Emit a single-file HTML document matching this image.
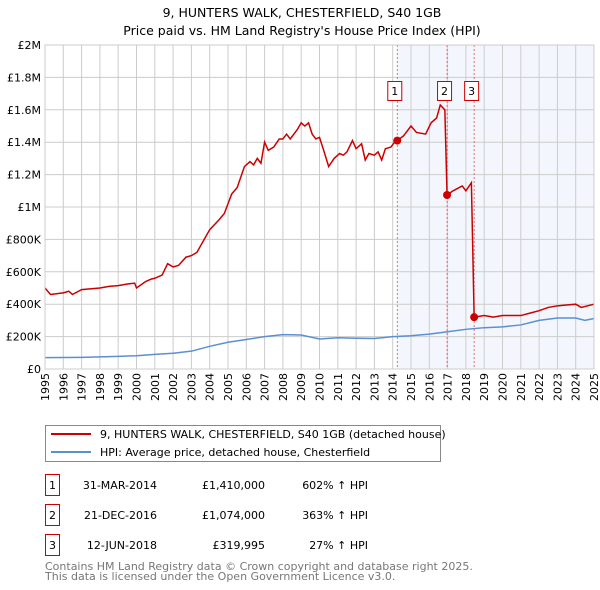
<!DOCTYPE html>
<html><head><meta charset="utf-8"><style>
body{margin:0;background:#fff;}
svg{display:block;font-family:"DejaVu Sans","Liberation Sans",sans-serif;}
</style></head><body>
<svg id="c" width="600" height="590" xmlns="http://www.w3.org/2000/svg">
<text x="302" y="17" text-anchor="middle" font-size="12.5">9, HUNTERS WALK, CHESTERFIELD, S40 1GB</text>
<text x="302" y="35" text-anchor="middle" font-size="12.5">Price paid vs. HM Land Registry's House Price Index (HPI)</text>
<g id="plot"></g>
<g>
<rect x="45.5" y="425.5" width="395" height="36" fill="#fff" stroke="#888"/>
<line x1="51" y1="434" x2="91" y2="434" stroke="#cc0000" stroke-width="2"/>
<text x="100" y="438" font-size="11">9, HUNTERS WALK, CHESTERFIELD, S40 1GB (detached house)</text>
<line x1="51" y1="452" x2="91" y2="452" stroke="#5b8fd4" stroke-width="2"/>
<text x="100" y="456" font-size="11">HPI: Average price, detached house, Chesterfield</text>
</g>
<g font-size="11">
<rect x="45.5" y="474.5" width="14" height="21" fill="#fff" stroke="#cc0000"/><text x="52.5" y="489" text-anchor="middle">1</text>
<text x="157" y="489" text-anchor="end">31-MAR-2014</text><text x="265" y="489" text-anchor="end">£1,410,000</text><text x="368" y="489" text-anchor="end">602% ↑ HPI</text>
<rect x="45.5" y="504.5" width="14" height="21" fill="#fff" stroke="#cc0000"/><text x="52.5" y="519" text-anchor="middle">2</text>
<text x="157" y="519" text-anchor="end">21-DEC-2016</text><text x="265" y="519" text-anchor="end">£1,074,000</text><text x="368" y="519" text-anchor="end">363% ↑ HPI</text>
<rect x="45.5" y="534.5" width="14" height="21" fill="#fff" stroke="#cc0000"/><text x="52.5" y="549" text-anchor="middle">3</text>
<text x="157" y="549" text-anchor="end">12-JUN-2018</text><text x="265" y="549" text-anchor="end">£319,995</text><text x="368" y="549" text-anchor="end">27% ↑ HPI</text>
</g>
<text x="45" y="570" font-size="11" fill="#777">Contains HM Land Registry data © Crown copyright and database right 2025.</text>
<text x="45" y="580" font-size="11" fill="#777">This data is licensed under the Open Government Licence v3.0.</text>
</svg>
<script>
const yTicks=[0,200,400,600,800,1000,1200,1400,1600,1800,2000];
const yTickLabels=["£0","£200K","£400K","£600K","£800K","£1M","£1.2M","£1.4M","£1.6M","£1.8M","£2M"];
const years=[1995,1996,1997,1998,1999,2000,2001,2002,2003,2004,2005,2006,2007,2008,2009,2010,2011,2012,2013,2014,2015,2016,2017,2018,2019,2020,2021,2022,2023,2024,2025];
const redT=[1995,1995.3,1996,1996.3,1996.5,1997,1998,1998.5,1999,1999.5,1999.9,2000.0,2000.5,2000.8,2001,2001.4,2001.7,2002,2002.3,2002.7,2003,2003.3,2003.7,2004,2004.5,2004.8,2005.2,2005.5,2005.9,2006.2,2006.4,2006.6,2006.8,2007.0,2007.2,2007.5,2007.8,2008,2008.2,2008.4,2008.8,2009.0,2009.2,2009.4,2009.6,2009.8,2010.0,2010.2,2010.5,2010.8,2011.1,2011.3,2011.5,2011.8,2012.0,2012.3,2012.5,2012.7,2013.0,2013.2,2013.4,2013.6,2013.9,2014.1,2014.25,2014.6,2015,2015.3,2015.8,2016.1,2016.4,2016.6,2016.85,2016.97,2017.3,2017.8,2018.0,2018.3,2018.45,2019,2019.5,2020,2021,2021.5,2022,2022.5,2023,2023.5,2024,2024.3,2025];
const redV=[500,460,470,480,460,490,500,510,515,525,530,500,540,555,560,580,650,630,640,690,700,720,800,860,920,960,1080,1120,1250,1280,1260,1300,1270,1400,1350,1370,1420,1420,1450,1420,1480,1520,1500,1520,1450,1420,1430,1360,1250,1300,1330,1320,1340,1410,1360,1390,1290,1330,1320,1340,1290,1360,1370,1400,1410,1440,1500,1460,1450,1520,1550,1630,1600,1074,1100,1130,1100,1150,320,330,320,330,330,345,360,380,390,395,400,380,400];
const blueT=[1995,1997,1999,2000,2001,2002,2003,2004,2005,2006,2007,2008,2009,2010,2011,2012,2013,2014,2015,2016,2017,2018,2019,2020,2021,2022,2023,2024,2024.5,2025];
const blueV=[70,72,78,82,90,97,110,140,165,182,200,212,210,185,193,190,188,200,205,215,230,245,255,260,272,300,315,315,300,312];
const saleT=[2014.25,2016.97,2018.45];
const saleV=[1410,1074,320];
const saleLabels=["1","2","3"];

const L=45,R=594,T=45,B=369;
const x=t=>L+(t-1995)/30*(R-L);
const y=v=>B-v/2000*(B-T);
const NS="http://www.w3.org/2000/svg";
const g=document.getElementById('plot');
function mk(tag,attrs,parent){const e=document.createElementNS(NS,tag);for(const k in attrs)e.setAttribute(k,attrs[k]);(parent||g).appendChild(e);return e;}
let e=mk('rect',{x:x(saleT[0]),y:T,width:R-x(saleT[0]),height:B-T,fill:'#eef3fc',opacity:0.7});


yTicks.forEach((v,i)=>{
 let l=mk('line',{x1:L,x2:R,y1:y(v),y2:y(v),stroke:'#ccc'});
 
 
 let t=mk('text',{x:L-4,y:y(v)+4,'text-anchor':'end','font-size':11});
 t.textContent=yTickLabels[i];
 
 
});
years.forEach(yr=>{
 let l=mk('line',{x1:x(yr),x2:x(yr),y1:T,y2:B,stroke:'#ccc'});
 
 
 let t=mk('text',{x:0,y:0,'text-anchor':'end','font-size':11,transform:`translate(${x(yr)+4},${B+4}) rotate(-90)`});
 t.textContent=yr;
 
 
});
saleT.forEach((s,i)=>{
 let l=mk('line',{x1:x(s),x2:x(s),y1:T,y2:B,stroke:'#e05050','stroke-dasharray':'2,2','stroke-width':0.8});
 
 
});
let bp=mk('polyline',{points:blueT.map((t,i)=>x(t)+','+y(blueV[i])).join(' '),fill:'none',stroke:'#5b8fd4','stroke-width':1.5});


let rp=mk('polyline',{points:redT.map((t,i)=>x(t)+','+y(redV[i])).join(' '),fill:'none',stroke:'#cc0000','stroke-width':1.5});


saleT.forEach((s,i)=>{
 let c=mk('circle',{cx:x(s),cy:y(saleV[i]),r:4,fill:'#cc0000'});
 
 
 let bx=x(s)-2.5-7;
 let r=mk('rect',{x:bx,y:81.5,width:14,height:19,fill:'#fff',stroke:'#cc0000'});
 
 
 let t=mk('text',{x:bx+7,y:95,'text-anchor':'middle','font-size':11});
 t.textContent=saleLabels[i];
 
 
});
let fr=mk('rect',{x:L,y:T,width:R-L,height:B-T,fill:'none',stroke:'#ccc'});


</script>
</body></html>
